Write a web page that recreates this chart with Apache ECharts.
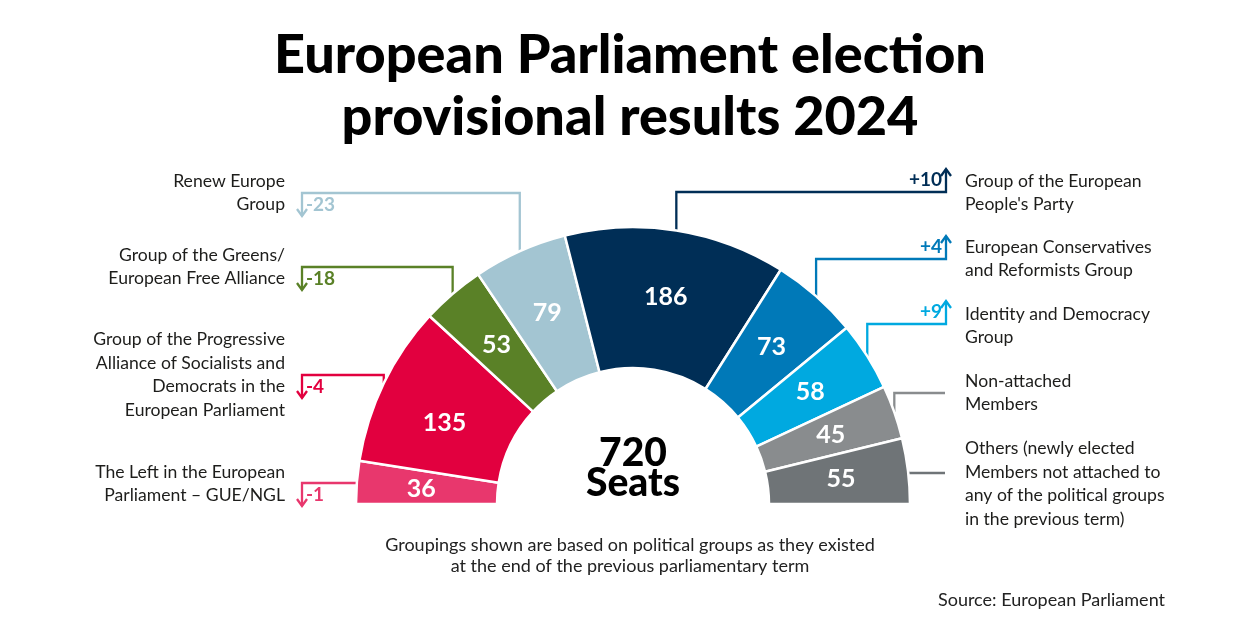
<!DOCTYPE html>
<html><head><meta charset="utf-8">
<script src="https://cdn.jsdelivr.net/npm/echarts@6/dist/echarts.min.js"></script>
<style>html,body{margin:0;padding:0;background:#fff}#c{width:1260px;height:625px}</style>
</head><body><div id="c"></div>
<script>
// ---- data ----
const groupNames = [
  'The Left in the European\nParliament – GUE/NGL',
  'Group of the Progressive\nAlliance of Socialists and\nDemocrats in the\nEuropean Parliament',
  'Group of the Greens/\nEuropean Free Alliance',
  'Renew Europe\nGroup',
  'Group of the European\nPeople\'s Party',
  'European Conservatives\nand Reformists Group',
  'Identity and Democracy\nGroup',
  'Non-attached\nMembers',
  'Others (newly elected\nMembers not attached to\nany of the political groups\nin the previous term)'
];
const seats = [36, 135, 53, 79, 186, 73, 58, 45, 55];
const seatChange = [-1, -4, -18, -23, 10, 4, 9, null, null];
const totalSeats = 720;
const titleText = 'European Parliament election\nprovisional results 2024';
const noteText = 'Groupings shown are based on political groups as they existed\nat the end of the previous parliamentary term';
const sourceText = 'Source: European Parliament';

// ---- styles / layout ----
const colors = ['#e8376d', '#e2003f', '#5a8127', '#a3c5d2', '#002e56', '#0079b8', '#00a9e0', '#898c8e', '#6f7477'];
const sides = ['L', 'L', 'L', 'L', 'R', 'R', 'R', 'R', 'R'];
const elbowY = [483, 375, 267, 193, 192, 259, 324, 393, 473];
const textShift = [1, 0, 0, 0, 1, 0, 2, 0, 11];
const labelOffsets = [[-3, 1], [0, 10], [0, 0], [0, 0], [0, 0], [0, 0], [0, 0], [0, 0], [0, 0]];
const FONT = 'Lato, "Noto Sans", sans-serif';
const CX = 633, CY = 504, R0 = 136, R1 = 277;
const LEFT_X = 302, RIGHT_X = 946;

const chart = echarts.init(document.getElementById('c'), null, {renderer: 'canvas'});

const baseOption = {
  animation: false,
  backgroundColor: '#ffffff',
  title: [{
    text: titleText,
    left: 'center',
    top: 20,
    textStyle: {fontFamily: FONT, fontSize: 54, fontWeight: 900, color: '#000', lineHeight: 62}
  }, {
    text: noteText,
    left: 'center',
    top: 530,
    textStyle: {fontFamily: FONT, fontSize: 18, fontWeight: 400, color: '#222', lineHeight: 21}
  }, {
    text: sourceText,
    right: 90,
    top: 586,
    textStyle: {fontFamily: FONT, fontSize: 18, fontWeight: 400, color: '#222'}
  }],
  series: [{
    type: 'pie',
    center: [CX, CY],
    radius: [R0, R1],
    startAngle: 180,
    endAngle: 0,
    clockwise: true,
    silent: true,
    itemStyle: {borderColor: '#fff', borderWidth: 2.5},
    label: {
      show: true, position: 'inside', formatter: '{c}',
      color: '#fff', fontFamily: FONT, fontSize: 25, fontWeight: 700
    },
    labelLine: {show: false},
    emphasis: {disabled: true},
    data: seats.map((v, i) => ({value: v, name: groupNames[i], itemStyle: {color: colors[i]},
      label: {offset: labelOffsets[i]}}))
  }]
};
chart.setOption(baseOption);

// slice outer mid-points from the library's pie layout
function outerPoint(i) {
  try {
    const d = chart.getModel().getSeriesByIndex(0).getData();
    const l = d.getItemLayout(i);
    const mid = (l.startAngle + l.endAngle) / 2;
    return [l.cx + l.r * Math.cos(mid), l.cy + l.r * Math.sin(mid)];
  } catch (e) {
    let before = 0;
    for (let k = 0; k < i; k++) before += seats[k];
    const a = Math.PI * (1 - (before + seats[i] / 2) / totalSeats);
    return [CX + R1 * Math.cos(a), CY - R1 * Math.sin(a)];
  }
}

const elements = [];
seats.forEach((v, i) => {
  const [px, py] = outerPoint(i);
  const H = elbowY[i];
  const col = colors[i];
  const left = sides[i] === 'L';
  const endX = left ? LEFT_X : RIGHT_X;
  const pts = [[px, py], [px, H], [endX, H]];
  const ch = seatChange[i];
  if (ch != null) {
    const dir = ch < 0 ? 1 : -1;
    const tipY = H + dir * 23;
    pts.push([endX, tipY]);
    elements.push({type: 'polyline', silent: true, shape: {points: [[endX - 5, tipY - dir * 7], [endX, tipY], [endX + 5, tipY - dir * 7]]},
      style: {stroke: col, lineWidth: 2.3, fill: null}});
    elements.push({type: 'text', silent: true, x: left ? endX + 4 : endX - 4, y: H + dir * 12,
      style: {text: (ch > 0 ? '+' : '') + ch, fill: col, fontFamily: FONT, fontSize: 19, fontWeight: 700,
        align: left ? 'left' : 'right', verticalAlign: 'middle'}});
  } else {
    pts[2] = [endX - 1, H];
  }
  elements.push({type: 'polyline', silent: true, shape: {points: pts},
    style: {stroke: col, lineWidth: 2.3, fill: null, lineJoin: 'miter'}});
  elements.push({type: 'text', silent: true, x: left ? 285 : 965, y: H + textShift[i],
    style: {text: groupNames[i], fill: '#1d1d1b', fontFamily: FONT, fontSize: 17.6, fontWeight: 400,
      lineHeight: 23.5, align: left ? 'right' : 'left', verticalAlign: 'middle'}});
});
elements.push({type: 'text', silent: true, x: CX, y: CY - 36,
  style: {text: totalSeats + '\nSeats', fill: '#000', fontFamily: FONT, fontSize: 39, fontWeight: 900,
    lineHeight: 30, align: 'center', verticalAlign: 'middle'}});

chart.setOption({graphic: {elements: elements}});
</script>
</body></html>
